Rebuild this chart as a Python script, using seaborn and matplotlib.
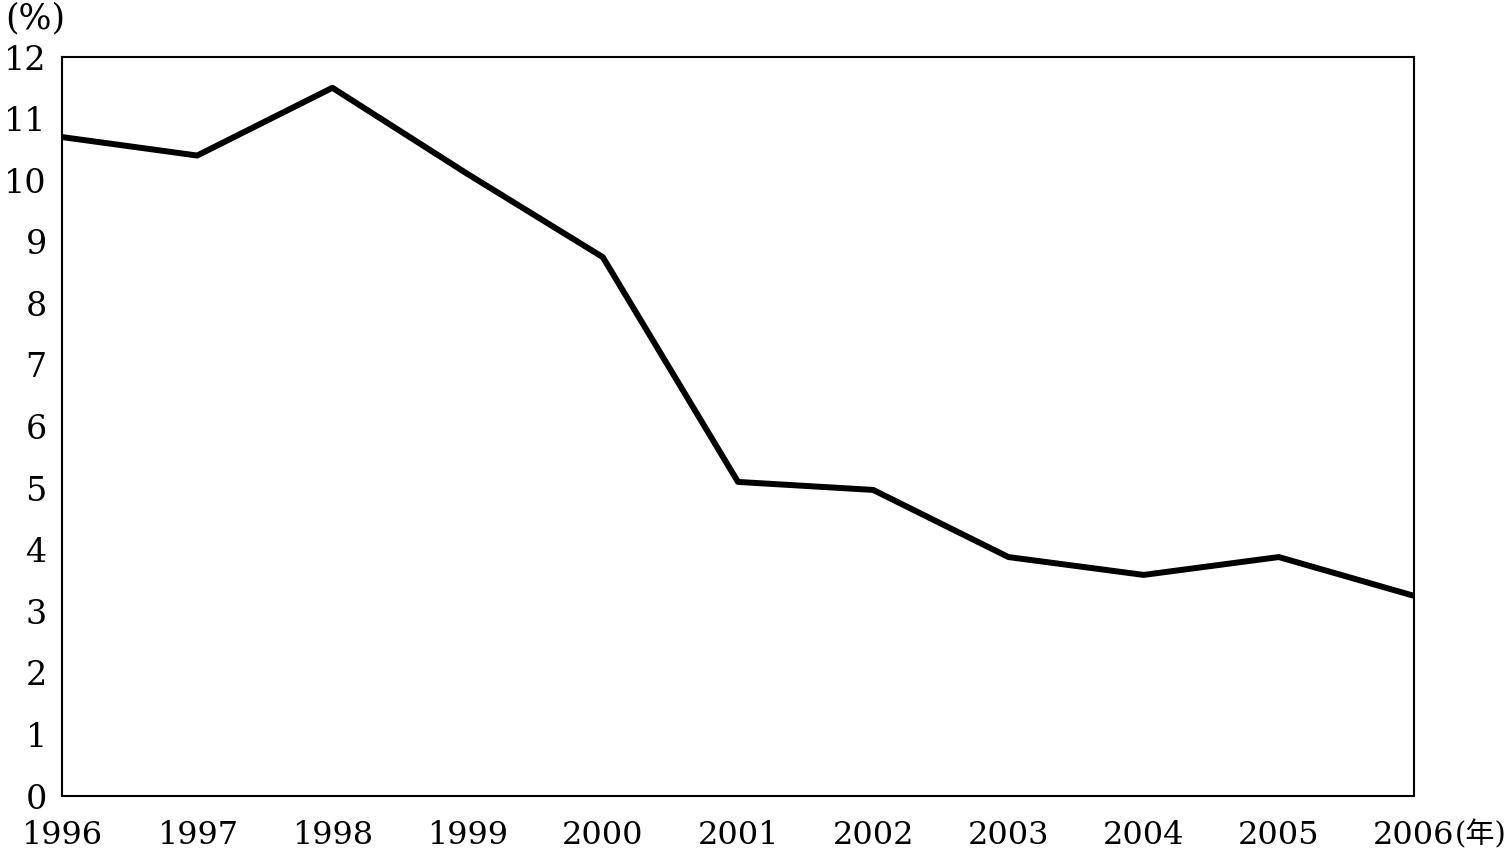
import matplotlib
matplotlib.use("Agg")
import matplotlib.pyplot as plt
import seaborn as sns
import pandas as pd

years = [1996, 1997, 1998, 1999, 2000, 2001, 2002, 2003, 2004, 2005, 2006]
values = [10.7, 10.4, 11.5, 10.1, 8.75, 5.1, 4.97, 3.88, 3.59, 3.88, 3.25]
y_ticks = list(range(0, 13))
x_labels = [str(y) for y in years]

sns.set_theme(style="white")
plt.rcParams['font.family'] = ['DejaVu Serif', 'Noto Sans CJK JP']

df = pd.DataFrame({"year": years, "value": values})

fig = plt.figure(figsize=(15.12, 8.55), dpi=100)
ax = fig.add_axes([62/1512, 59/855, (1414-62)/1512, (796-57)/855])
sns.lineplot(data=df, x="year", y="value", ax=ax, color="black", linewidth=4.3)

ax.set_xlim(1996, 2006)
ax.set_ylim(0, 12)
ax.set_xticks(years)
ax.set_xticklabels(x_labels)
ax.set_yticks(y_ticks)
ax.set_yticklabels([str(v) for v in y_ticks])
ax.set_xlabel("")
ax.set_ylabel("")
for s in ax.spines.values():
    s.set_color("black")
    s.set_linewidth(1.5)
ax.tick_params(axis="x", direction="in", length=8, width=1.5, color="black",
               labelsize=23, pad=17, labelcolor="black")
ax.tick_params(axis="y", length=0, labelsize=24, pad=11, labelcolor="black")
ax.grid(False)

fig.text(5/1512, 1 - 18/855, "(%)", fontsize=25, va="center", ha="left", color="black")

fig.canvas.draw()
last = ax.get_xticklabels()[-1]
ax.annotate("(年)", xy=(1, 0.5), xycoords=last, ha="left", va="center",
            fontsize=21, color="black",
            family=['DejaVu Serif', 'Noto Sans CJK JP'])

fig.savefig("out.png", dpi=100)
